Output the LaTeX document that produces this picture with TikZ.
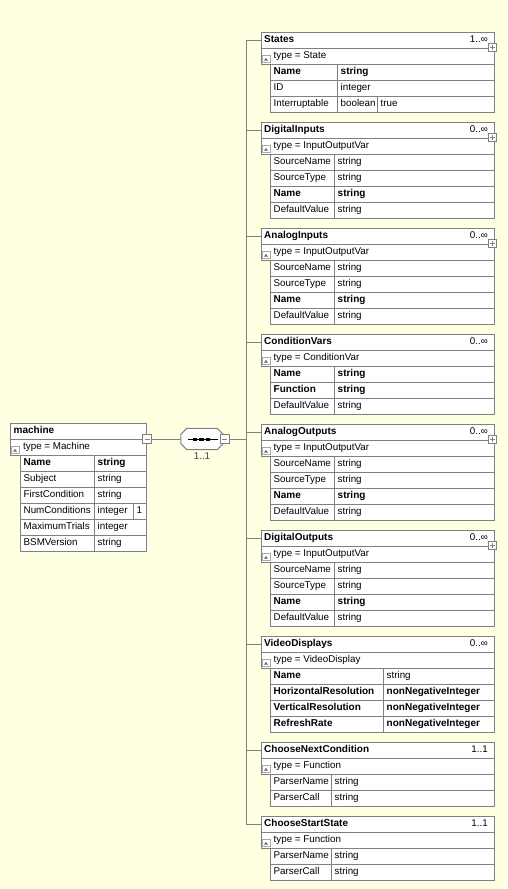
\documentclass[tikz,border=0pt]{standalone}
\usepackage{fontspec}
\setmainfont{Liberation Sans}
\definecolor{bgy}{HTML}{FFFFE1}
\definecolor{bdc}{HTML}{808080}
\definecolor{icc}{HTML}{A8A8A8}
\tikzset{
  txt/.style={inner sep=0pt, font=\fontsize{9.8}{12}\selectfont, text height=7.5pt, text depth=2.5pt, anchor=west},
  bb/.style={font=\fontsize{10}{12}\selectfont\bfseries},
  bx/.style={draw=bdc, fill=white, line width=1pt},
  rowbox/.style={draw=bdc, fill=white, line width=1pt, inner sep=0pt, minimum height=16pt, minimum width=233pt, anchor=north west},
  conn/.style={draw=bdc, line width=1pt},
  pm/.style={draw=bdc, fill=white, line width=1pt, minimum size=8pt, inner sep=0pt},
  icon/.style={draw=icc, fill=white, line width=0.7pt, minimum width=8pt, minimum height=7pt, inner sep=0pt},
}
\newcommand\childbox[5]{%
  \node[rowbox] (#1) at (261,#2) {};
  \node[rowbox] (#1T) at (261,#2+16) {};
  \node[txt,bb] (#1-n) at (264,#2+8) {#3};
  \node[txt,anchor=east] (#1-m) at (488,#2+8) {#4};
  \node[icon] (#1-i) at (266,#2+27) {};
  \fill[black!60] ([xshift=-2pt,yshift=-1.5pt]#1-i.center) -- ([xshift=2pt,yshift=-1.5pt]#1-i.center) -- ([yshift=1pt]#1-i.center) -- cycle;
  \node[txt] (#1-ty) at (273.5,#2+24) {type = #5};
}
\newcommand\plusbox[2]{%
  \node[pm] (#1-p) at (492,#2+15) {};
  \draw[bdc, line width=0.8pt] ([xshift=-2.5pt]#1-p.center) -- ([xshift=2.5pt]#1-p.center) ([yshift=-2.5pt]#1-p.center) -- ([yshift=2.5pt]#1-p.center);
}
\newcommand\trow[6]{%
  \draw[bx] (270,#2) rectangle (#3,#2+16);
  \draw[bx] (#3,#2) rectangle (494,#2+16);
  \node[txt,#6] (#1a) at (273.5,#2+8) {#4};
  \node[txt,#6] (#1b) at (#3+3.5,#2+8) {#5};
}
\newcommand\mrow[5]{%
  \draw[bx] (20,#2) rectangle (94,#2+16);
  \draw[bx] (94,#2) rectangle (146,#2+16);
  \node[txt,#5] (#1a) at (23.5,#2+8) {#3};
  \node[txt,#5] (#1b) at (97.5,#2+8) {#4};
}
\newcommand\minusbox[3]{%
  \node[pm, minimum size=9pt] (#1) at (#2,#3) {};
  \draw[bdc, line width=0.8pt] ([xshift=-2.5pt]#1.center) -- ([xshift=2.5pt]#1.center);
}
\begin{document}
\begin{tikzpicture}[x=1pt,y=-1pt]
\useasboundingbox (0,0) rectangle (507,889);
\fill[bgy] (0,0) rectangle (507,889);

% ---------- machine ----------
\node[rowbox, minimum width=136pt] (machine) at (10,423) {};
\node[rowbox, minimum width=136pt] (machineT) at (10,439) {};
\node[txt,bb] (machine-n) at (13.5,431) {machine};
\node[icon] (machine-i) at (15,450) {};
\fill[black!60] ([xshift=-2pt,yshift=-1.5pt]machine-i.center) -- ([xshift=2pt,yshift=-1.5pt]machine-i.center) -- ([yshift=1pt]machine-i.center) -- cycle;
\node[txt] (machine-ty) at (23,447) {type = Machine};
\mrow{mr1}{455}{Name}{string}{bb}
\mrow{mr2}{471}{Subject}{string}{}
\mrow{mr3}{487}{FirstCondition}{string}{}
\draw[bx] (20,503) rectangle (94,519);
\draw[bx] (94,503) rectangle (133,519);
\draw[bx] (133,503) rectangle (146,519);
\node[txt] (mr4a) at (23.5,511) {NumConditions};
\node[txt] (mr4b) at (97.5,511) {integer};
\node[txt] (mr4c) at (136.5,511) {1};
\mrow{mr5}{519}{MaximumTrials}{integer}{}
\mrow{mr6}{535}{BSMVersion}{string}{}
\minusbox{mm}{147}{439}

% ---------- sequence compositor ----------
\node[minimum width=42pt, minimum height=21pt, inner sep=0pt] (seq) at (202,439) {};
\draw[bx] ([xshift=6pt]seq.north west) -- ([xshift=-6pt]seq.north east) -- ([yshift=-6pt]seq.north east) -- ([yshift=6pt]seq.south east) -- ([xshift=-6pt]seq.south east) -- ([xshift=6pt]seq.south west) -- ([yshift=6pt]seq.south west) -- ([yshift=-6pt]seq.north west) -- cycle;
\draw[black, line width=1pt] ([xshift=-14pt]seq.center) -- ([xshift=16pt]seq.center);
\fill[black] ([xshift=-9pt,yshift=-1.5pt]seq.center) rectangle ([xshift=-5pt,yshift=1.5pt]seq.center);
\fill[black] ([xshift=-3pt,yshift=-1.5pt]seq.center) rectangle ([xshift=1.5pt,yshift=1.5pt]seq.center);
\fill[black] ([xshift=3.5pt,yshift=-1.5pt]seq.center) rectangle ([xshift=8pt,yshift=1.5pt]seq.center);
\minusbox{seqm}{224.5}{439}
\node[txt, anchor=center, text=black!75] (seq-occ) at (202,457) {1..1};

% ---------- children ----------
\childbox{States}{32}{States}{1..∞}{State}
\trow{s1}{64}{337}{Name}{string}{bb}
\trow{s2}{80}{337}{ID}{integer}{}
\draw[bx] (270,96) rectangle (337,112);
\draw[bx] (337,96) rectangle (377,112);
\draw[bx] (377,96) rectangle (494,112);
\node[txt] (s3a) at (273.5,104) {Interruptable};
\node[txt] (s3b) at (340.5,104) {boolean};
\node[txt] (s3c) at (380.5,104) {true};
\plusbox{States}{32}

\childbox{DI}{122}{DigitalInputs}{0..∞}{InputOutputVar}
\trow{di1}{154}{334}{SourceName}{string}{}
\trow{di2}{170}{334}{SourceType}{string}{}
\trow{di3}{186}{334}{Name}{string}{bb}
\trow{di4}{202}{334}{DefaultValue}{string}{}
\plusbox{DI}{122}

\childbox{AI}{228}{AnalogInputs}{0..∞}{InputOutputVar}
\trow{ai1}{260}{334}{SourceName}{string}{}
\trow{ai2}{276}{334}{SourceType}{string}{}
\trow{ai3}{292}{334}{Name}{string}{bb}
\trow{ai4}{308}{334}{DefaultValue}{string}{}
\plusbox{AI}{228}

\childbox{CV}{334}{ConditionVars}{0..∞}{ConditionVar}
\trow{cv1}{366}{334}{Name}{string}{bb}
\trow{cv2}{382}{334}{Function}{string}{bb}
\trow{cv3}{398}{334}{DefaultValue}{string}{}

\childbox{AO}{424}{AnalogOutputs}{0..∞}{InputOutputVar}
\trow{ao1}{456}{334}{SourceName}{string}{}
\trow{ao2}{472}{334}{SourceType}{string}{}
\trow{ao3}{488}{334}{Name}{string}{bb}
\trow{ao4}{504}{334}{DefaultValue}{string}{}
\plusbox{AO}{424}

\childbox{DO}{530}{DigitalOutputs}{0..∞}{InputOutputVar}
\trow{do1}{562}{334}{SourceName}{string}{}
\trow{do2}{578}{334}{SourceType}{string}{}
\trow{do3}{594}{334}{Name}{string}{bb}
\trow{do4}{610}{334}{DefaultValue}{string}{}
\plusbox{DO}{530}

\childbox{VD}{636}{VideoDisplays}{0..∞}{VideoDisplay}
\draw[bx] (270,668) rectangle (383,684);
\draw[bx] (383,668) rectangle (494,684);
\node[txt,bb] (vd1a) at (273.5,676) {Name};
\node[txt] (vd1b) at (386.5,676) {string};
\trow{vd2}{684}{383}{HorizontalResolution}{nonNegativeInteger}{bb}
\trow{vd3}{700}{383}{VerticalResolution}{nonNegativeInteger}{bb}
\trow{vd4}{716}{383}{RefreshRate}{nonNegativeInteger}{bb}

\childbox{CNC}{742}{ChooseNextCondition}{1..1}{Function}
\trow{cn1}{774}{331}{ParserName}{string}{}
\trow{cn2}{790}{331}{ParserCall}{string}{}

\childbox{CSS}{816}{ChooseStartState}{1..1}{Function}
\trow{cs1}{848}{331}{ParserName}{string}{}
\trow{cs2}{864}{331}{ParserCall}{string}{}

% ---------- connectors ----------
\coordinate (bus) at (246,0);
\draw[conn] (mm.east) -- (seq.west);
\draw[conn] (seqm.east) -- (bus|-seqm.east);
\draw[conn] (bus|-States.west) -- (bus|-CSS.west);
\foreach \c in {States,DI,AI,CV,AO,DO,VD,CNC,CSS}{
  \draw[conn] (bus|-\c.west) -- (\c.west);
}
\end{tikzpicture}
\end{document}
